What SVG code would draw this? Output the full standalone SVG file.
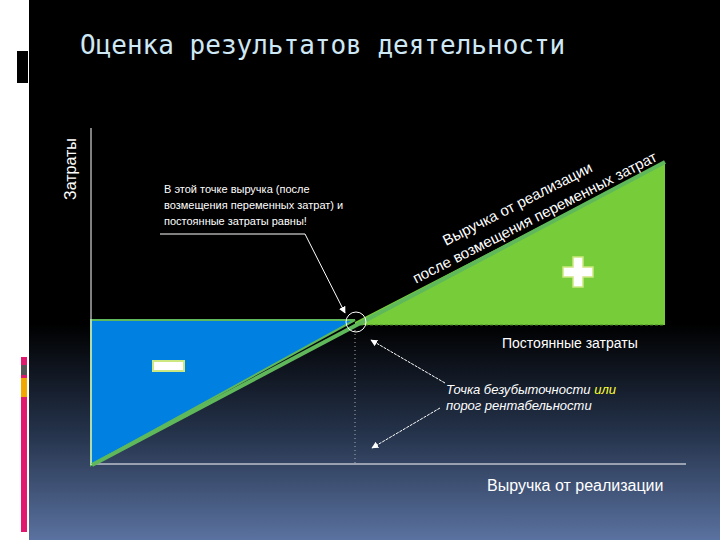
<svg xmlns="http://www.w3.org/2000/svg" width="720" height="540" viewBox="0 0 720 540">
<defs>
<linearGradient id="bg" x1="0" y1="0" x2="0" y2="1">
<stop offset="0" stop-color="#000"/><stop offset="0.6" stop-color="#000"/><stop offset="0.8" stop-color="#24324a"/><stop offset="1" stop-color="#5a72a0"/>
</linearGradient>
<marker id="ah" viewBox="0 0 10 10" refX="9" refY="5" markerWidth="7" markerHeight="7" orient="auto"><path d="M0,0 L10,5 L0,10 z" fill="#fff"/></marker>
<style>
.s{font-family:"Liberation Sans",Arial,sans-serif;fill:#fff}
.c{font-family:"Liberation Sans",Arial,sans-serif;fill:#fff;font-size:11px}
.l{stroke:#fff;stroke-width:1;fill:none}
</style>
</defs>
<rect width="720" height="540" fill="#fff"/>
<rect x="29" y="0" width="691" height="540" fill="url(#bg)"/>
<rect x="17" y="51" width="11" height="32" fill="#000"/>
<rect x="21" y="357" width="6" height="175" fill="#e0196e"/>
<rect x="21" y="365" width="6" height="10" fill="#555"/>
<rect x="21" y="378" width="6" height="19" fill="#f0a800"/>
<text x="80" y="54" font-family="DejaVu Sans Mono,monospace" font-size="26" fill="#cfe8f5">Оценка результатов деятельности</text>
<g id="areas">
<polygon points="91,320 355,320 91,465" fill="#0080e0" stroke="#5fb85a" stroke-width="2"/>
<polygon points="355,322 665,162 665,325 355,325" fill="#77cc3a"/>
<line x1="355" y1="325" x2="665" y2="325" stroke="#4a8a2a" stroke-dasharray="3,2"/>
</g>
<g id="connectors">
<line x1="91" y1="128" x2="91" y2="465" class="l"/>
<line x1="91" y1="464" x2="686" y2="464" class="l"/>
<line x1="92" y1="465" x2="665" y2="162" stroke="#5fb85a" stroke-width="4"/>
<line x1="355" y1="330" x2="355" y2="464" stroke="#aaa" stroke-dasharray="1,3"/>
<circle cx="356" cy="322" r="10" class="l"/>
<polyline points="160,234 305,234 345,313" class="l" marker-end="url(#ah)"/>
<line x1="445" y1="383" x2="371" y2="340" class="l" stroke-dasharray="3,1" marker-end="url(#ah)"/>
<line x1="440" y1="408" x2="372" y2="448" class="l" stroke-dasharray="3,1" marker-end="url(#ah)"/>
</g>
<g id="labels">
<text class="s" font-size="16" transform="translate(76,200) rotate(-90)">Затраты</text>
<text class="c" x="164" y="193">В этой точке выручка (после</text>
<text class="c" x="164" y="209">возмещения переменных затрат) и</text>
<text class="c" x="164" y="225">постоянные затраты равны!</text>
<g transform="translate(446,246) rotate(-27)">
<text class="s" font-size="15" x="0" y="0">Выручка от реализации</text>
<text class="s" font-size="15" x="-44" y="20">после возмещения переменных затрат</text>
</g>
<text class="s" font-size="14" x="502" y="348">Постоянные затраты</text>
<text class="s" font-size="13" font-style="italic" x="446" y="394">Точка безубыточности <tspan fill="#ffff33">или</tspan></text>
<text class="s" font-size="13" font-style="italic" x="446" y="410">порог рентабельности</text>
<text class="s" font-size="16" x="487" y="491">Выручка от реализации</text>
</g>
<g id="signs">
<rect x="153" y="361" width="31" height="10" fill="#fff" stroke="#cde880" stroke-width="2"/>
<path d="M573,257 h10 v10 h10 v10 h-10 v10 h-10 v-10 h-10 v-10 h10 z" fill="#fff" stroke="#cde880" stroke-width="1.5"/>
</g>
</svg>
